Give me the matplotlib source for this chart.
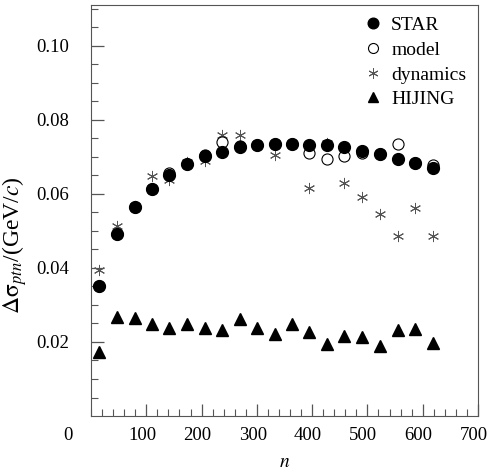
import numpy as np
import matplotlib
matplotlib.use("Agg")
import matplotlib.pyplot as plt
import matplotlib.transforms as mtransforms

plt.rcParams['font.family'] = ['Liberation Serif', 'DejaVu Serif']
plt.rcParams['mathtext.fontset'] = 'stix'

# number of participants n
n = [15, 47, 79, 110, 142, 174, 206, 237, 269, 300,
     332, 363, 395, 426, 458, 490, 522, 555, 586, 618]

star = [0.0352, 0.0492, 0.0564, 0.0614, 0.0650, 0.0681, 0.0701, 0.0714, 0.0726, 0.0731,
        0.0735, 0.0735, 0.0733, 0.0731, 0.0726, 0.0717, 0.0708, 0.0695, 0.0683, 0.0669]
model = [0.0352, 0.0492, 0.0564, 0.0614, 0.0656, 0.0681, 0.0705, 0.0739, 0.0728, 0.0731,
         0.0735, 0.0735, 0.0710, 0.0694, 0.0703, 0.0710, 0.0708, 0.0734, 0.0683, 0.0677]
dynamics = [0.0393, 0.0514, 0.0567, 0.0647, 0.0638, 0.0685, 0.0688, 0.0759, 0.0758, 0.0731,
            0.0704, 0.0735, 0.0615, 0.0737, 0.0629, 0.0591, 0.0546, 0.0486, 0.0561, 0.0486]
hijing = [0.0174, 0.0268, 0.0264, 0.0249, 0.0237, 0.0249, 0.0237, 0.0231, 0.0261, 0.0239,
          0.0222, 0.0248, 0.0228, 0.0195, 0.0216, 0.0213, 0.0189, 0.0231, 0.0235, 0.0198]

fig = plt.figure(figsize=(4.9, 4.72), dpi=100)
ax = fig.add_axes([0.1857, 0.1186, 0.7898, 0.8708])

ax.plot(n, dynamics, linestyle='none', marker=(6, 2, 0), ms=8, mew=0.7,
        color='#555555', label='dynamics', zorder=2)
ax.plot(n, model, linestyle='none', marker='o', ms=8, mfc='white', mec='black',
        mew=0.8, label='model', zorder=3)
ax.plot(n, star, linestyle='none', marker='o', ms=8.5, color='black',
        label='STAR', zorder=4)
ax.plot(n, hijing, linestyle='none', marker='^', ms=8, color='black',
        label='HIJING', zorder=4)

ax.set_xlim(0, 700)
ax.set_ylim(0, 0.111)
ax.set_xticks(np.arange(100, 701, 100))
ax.set_xticks(np.arange(0, 701, 20), minor=True)
ax.set_yticks(np.arange(0.02, 0.101, 0.02))
ax.set_yticks(np.arange(0.005, 0.111, 0.005), minor=True)
ax.set_yticklabels(['0.02', '0.04', '0.06', '0.08', '0.10'])

for sp in ax.spines.values():
    sp.set_color('#555555')
ax.tick_params(which='both', direction='in', color='#555555', top=False, right=False)
ax.tick_params(which='major', length=9, width=0.9, labelsize=13.5)
ax.tick_params(axis='x', which='major', pad=8)
ax.tick_params(axis='y', which='major', pad=16)
ax.tick_params(which='minor', length=5, width=0.8)

# x labels sit a little left of their ticks in the original
shift = mtransforms.ScaledTranslation(-4 / 100, 0, fig.dpi_scale_trans)
for lab in ax.get_xticklabels():
    lab.set_transform(lab.get_transform() + shift)

# shared origin label, pushed left like the original
ax.annotate('0', xy=(0, 0), xycoords='axes fraction', xytext=(-16.5, -8),
            textcoords='offset points', ha='center', va='top', fontsize=13.5)

ax.set_xlabel(r'$n$', fontsize=14, labelpad=7)
ax.set_ylabel(r'$\Delta\mathrm{\sigma}_{ptn}$/(GeV/$c$)', fontsize=17)
ax.yaxis.set_label_coords(-0.16, 0.416)

handles, labels = ax.get_legend_handles_labels()
order = [2, 1, 0, 3]
ax.legend([handles[i] for i in order], [labels[i] for i in order],
          loc='upper right', frameon=False, fontsize=14, handlelength=0.7,
          handletextpad=0.6, labelspacing=0.36, borderaxespad=0.2,
          markerscale=0.9)

fig.savefig('out.png', dpi=100)
